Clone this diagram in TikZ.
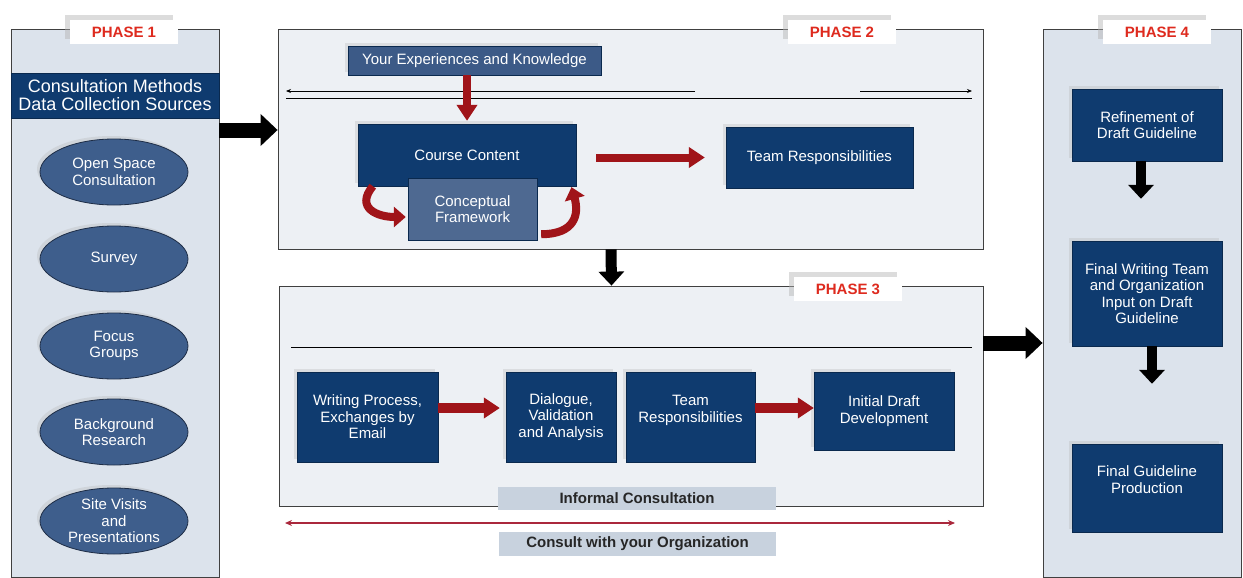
\documentclass[tikz,border=0pt]{standalone}
\usepackage{fontspec}
\setmainfont{Liberation Sans}
\usetikzlibrary{positioning,shapes.geometric,arrows.meta,shadows}

\definecolor{darkblue}{RGB}{15,59,111}
\definecolor{midblue}{RGB}{60,90,135}
\definecolor{cfblue}{RGB}{78,105,145}
\definecolor{ellblue}{RGB}{62,94,140}
\definecolor{ellrim}{RGB}{30,45,70}
\definecolor{panelA}{RGB}{220,227,236}
\definecolor{panelB}{RGB}{237,240,244}
\definecolor{phasered}{RGB}{222,42,30}
\definecolor{arrowred}{RGB}{160,20,25}
\definecolor{tagfill}{RGB}{200,210,222}
\definecolor{orgred}{RGB}{170,40,60}

\newcommand{\boxfont}{\fontsize{15}{16.5}\selectfont}
\newcommand{\hdrfont}{\fontsize{18}{18}\selectfont}

\tikzset{
  panel/.style={draw=black!75,line width=0.8pt},
  phasetag/.style={fill=white,minimum width=108,minimum height=24,text=phasered,
    font=\boxfont\bfseries,drop shadow={shadow xshift=-5pt,shadow yshift=5pt,fill=black!30,opacity=.45}},
  boxshadow/.style={drop shadow={shadow xshift=-3pt,shadow yshift=3pt,fill=black!30,opacity=.3}},
  darkbox/.style={fill=darkblue,draw=darkblue!70!black,text=white,align=center,font=\boxfont,inner sep=2pt},
  method/.style={ellipse,fill=ellblue,draw=ellrim,line width=0.8pt,text=white,align=center,
    font=\boxfont,minimum width=148,minimum height=66,inner sep=0pt,boxshadow},
  tag/.style={fill=tagfill,text=black!85,font=\boxfont\bfseries},
  bigarrow/.style={line width=15pt,-{Triangle[length=17pt,width=31pt]}},
  downarrow/.style={line width=11pt,-{Triangle[length=14pt,width=25pt]}},
  redarrow/.style={draw=arrowred,line width=8pt,-{Triangle[length=16pt,width=20pt]}},
  curvearrow/.style={draw=arrowred,line width=8pt,-{Triangle[length=12pt,width=20pt]}},
  thinarrow/.style={line width=0.8pt,-{Stealth[length=5pt,width=4pt]}}
}

\begin{document}
\begin{tikzpicture}[x=1pt,y=-1pt]
\useasboundingbox (0,0) rectangle (1243,578);
% phase 1
\node[panel,fill=panelA,minimum width=208,minimum height=548] (p1) at (115,303) {};
\node[phasetag] (t1) at (124,32) {PHASE 1};
\node[darkbox,minimum width=208,minimum height=45,font=\hdrfont] (hdr) at (115,95.5) {Consultation Methods\\Data Collection Sources};
\node[method] (m1) at (114,172) {Open Space\\Consultation};
\node[method] (m2) at (114,259) {Survey};
\node[method] (m3) at (114,346) {Focus\\Groups};
\node[method] (m4) at (114,432) {Background\\Research};
\node[method] (m5) at (114,521) {Site Visits\\and\\Presentations};
% phase 2
\node[panel,fill=panelB,minimum width=705,minimum height=220] (p2) at (630.5,139) {};
\node[phasetag] (t2) at (842,32) {PHASE 2};
\node[darkbox,fill=midblue,boxshadow,minimum width=253,minimum height=29] (exp) at (474.5,60.5) {Your Experiences and Knowledge};
\draw[thinarrow] (695,91) -- (286,91);
\draw[thinarrow] (860,91) -- (972,91);
\draw[line width=0.8pt] (286,98) -- (972,98);
\node[darkbox,boxshadow,minimum width=218,minimum height=62] (cc) at (467,155) {Course Content};
\node[darkbox,fill=cfblue,minimum width=129,minimum height=62] (cf) at (472.5,209) {Conceptual\\Framework};
\node[darkbox,boxshadow,minimum width=187,minimum height=61] (tr2) at (819.5,157.5) {Team Responsibilities};
\draw[redarrow,shorten >=3pt] (exp.south -| cc.north) -- (cc.north);
\draw[redarrow,shorten <=20pt,shorten >=21pt] (cc.east |- tr2.west) -- (tr2.west);
\draw[curvearrow,shorten >=2pt] ([xshift=15]cc.south west) .. controls +(-18,22) and +(-30,0) .. ([yshift=-8]cf.west);
\draw[curvearrow,shorten >=1pt] ([shift={(4,-6)}]cf.south east) .. controls +(34,0) and +(8,28) .. ([xshift=-5]cc.south east);
% phase 3
\node[panel,fill=panelB,minimum width=704,minimum height=220] (p3) at (631,396) {};
\node[phasetag] (t3) at (848,289) {PHASE 3};
\draw[downarrow] ([xshift=-19.5]p2.south) -- ([xshift=-19.5]p3.north);
\draw[line width=0.8pt] (291,347) -- (972,347);
\node[darkbox,boxshadow,minimum width=141,minimum height=90] (wp) at (367.5,417) {Writing Process,\\Exchanges by\\Email};
\node[darkbox,boxshadow,minimum width=110,minimum height=90] (dv) at (561,417) {Dialogue,\\Validation\\and Analysis};
\node[darkbox,boxshadow,minimum width=129,minimum height=90] (tr3) at (690.5,417) {Team\\Responsibilities\\\mbox{}};
\node[darkbox,boxshadow,minimum width=140,minimum height=78] (id) at (884,411) {Initial Draft\\Development};
\coordinate (j3) at (0,408);
\draw[redarrow,line width=10pt,shorten >=6pt] (wp.east |- j3) -- (dv.west |- j3);
\draw[redarrow,line width=10pt] (tr3.east |- j3) -- (id.west |- j3);
\node[tag,minimum width=278,minimum height=23] (ic) at (637,498.5) {Informal Consultation};
\coordinate (c1) at (285,523);
\coordinate (c2) at (955,523);
\draw[orgred,line width=1.5pt,{Stealth[length=7pt,width=6pt]}-{Stealth[length=7pt,width=6pt]}] (c1) -- (c2);
\node[tag,minimum width=277,minimum height=24] (cw) at (637.5,544) {Consult with your Organization};
% phase 1 to 2, phase 3 to 4
\node[panel,fill=panelA,minimum width=198,minimum height=548] (p4) at (1142,303) {};
\coordinate (j12) at (0,130);
\coordinate (j34) at (0,343);
\draw[bigarrow] (hdr.east |- j12) -- (p2.west |- j12);
\draw[bigarrow] (p3.east |- j34) -- (p4.west |- j34);
% phase 4
\node[phasetag] (t4) at (1157,32) {PHASE 4};
\node[darkbox,boxshadow,minimum width=150,minimum height=72] (rf) at (1147,125) {Refinement of\\Draft Guideline};
\node[darkbox,boxshadow,minimum width=150,minimum height=105] (fw) at (1147,293.5) {Final Writing Team\\and Organization\\Input on Draft\\Guideline};
\node[darkbox,boxshadow,minimum width=150,minimum height=88] (fg) at (1147,488) {Final Guideline\\Production\\\mbox{}};
\draw[downarrow,line width=10pt,shorten >=42pt] ([xshift=-6]rf.south) -- ([xshift=-6]fw.north);
\draw[downarrow,line width=10pt,shorten >=60pt] ([xshift=5]fw.south) -- ([xshift=5]fg.north);
\end{tikzpicture}
\end{document}
